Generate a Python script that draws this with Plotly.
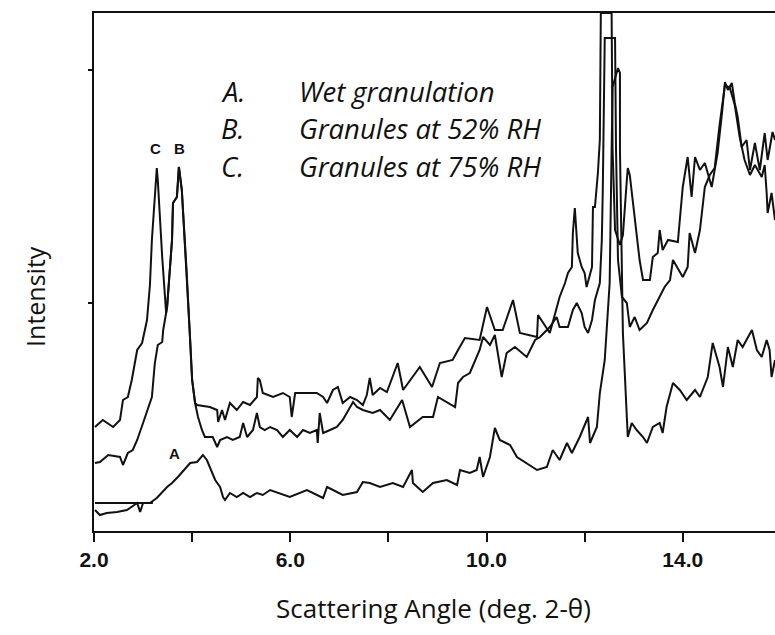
import plotly.graph_objects as go

# Scattering angle (deg 2-theta) and intensity (arbitrary units)
x_C = [2.02, 2.18, 2.39, 2.53, 2.59, 2.69, 2.77, 2.84, 2.88, 2.98, 3.04, 3.08, 3.14, 3.18, 3.28, 3.30, 3.39, 3.45, 3.47,
       3.49, 3.59, 3.61, 3.69, 3.73, 3.79, 3.89, 3.96, 4.00, 4.06, 4.10, 4.36, 4.51, 4.53, 4.61, 4.67, 4.77, 4.91, 5.04,
       5.18, 5.32, 5.34, 5.38, 5.44, 5.65, 5.85, 5.99, 6.03, 6.10, 6.54, 6.67, 6.75, 6.87, 6.97, 7.07, 7.22, 7.36, 7.48,
       7.56, 7.62, 7.68, 7.83, 7.97, 8.19, 8.30, 8.64, 8.89, 9.05, 9.31, 9.42, 9.56, 9.86, 10.01, 10.17, 10.33, 10.54,
       10.68, 11.03, 11.05, 11.29, 11.35, 11.49, 11.60, 11.66, 11.74, 11.76, 11.80, 11.84, 11.86, 11.94, 12.00, 12.04,
       12.11, 12.15, 12.17, 12.21, 12.27, 12.31, 12.33, 12.55, 12.57, 12.62, 12.72, 12.78, 12.86, 12.88, 12.92, 13.02,
       13.12, 13.19, 13.33, 13.39, 13.49, 13.53, 13.59, 13.70, 13.90, 14.00, 14.10, 14.18, 14.25, 14.35, 14.45, 14.59,
       14.65, 14.71, 14.80, 14.86, 14.92, 15.00, 15.06, 15.12, 15.20, 15.30, 15.37, 15.47, 15.57, 15.67, 15.73, 15.83, 15.88]
y_C = [104, 111, 104, 111, 131, 134, 151, 168, 181, 188, 201, 211, 246, 291, 363, 351, 274, 224, 218,
       224, 291, 328, 334, 364, 341, 258, 191, 151, 128, 126, 124, 121, 109, 121, 111, 128, 121, 129,
       126, 134, 153, 151, 138, 134, 138, 134, 114, 138, 138, 134, 128, 141, 144, 128, 134, 131, 126,
       136, 153, 136, 143, 139, 168, 141, 164, 144, 168, 171, 181, 193, 191, 224, 201, 201, 231,
       198, 194, 216, 198, 208, 234, 248, 258, 264, 298, 323, 294, 278, 264, 258, 244,
       258, 264, 324, 324, 358, 391, 518, 518, 381, 301, 286, 296, 351, 363, 356, 311,
       271, 251, 251, 274, 278, 301, 281, 291, 289, 344, 374, 334, 374, 361, 368, 344,
       361, 378, 418, 449, 441, 448, 428, 414, 384, 391, 361, 388, 361, 398, 371, 399, 391]

x_B = [2.02, 2.12, 2.29, 2.53, 2.59, 2.69, 2.79, 2.88, 3.00, 3.10, 3.18, 3.24, 3.30, 3.39, 3.41, 3.47, 3.49, 3.59,
       3.61, 3.69, 3.73, 3.79, 3.89, 3.96, 4.00, 4.06, 4.12, 4.20, 4.26, 4.42, 4.51, 4.57, 4.71, 4.83, 4.97, 5.04, 5.12,
       5.24, 5.32, 5.38, 5.48, 5.59, 5.73, 5.85, 5.99, 6.14, 6.26, 6.40, 6.54, 6.56, 6.60, 6.67, 6.81, 6.95, 7.07, 7.18,
       7.28, 7.36, 7.48, 7.68, 7.83, 8.03, 8.28, 8.44, 8.70, 8.91, 9.01, 9.36, 9.42, 9.52, 9.66, 9.86, 9.93, 10.07,
       10.17, 10.31, 10.41, 10.58, 10.82, 10.99, 11.09, 11.29, 11.43, 11.49, 11.66, 11.76, 11.84, 11.94, 12.00, 12.07,
       12.15, 12.21, 12.31, 12.35, 12.37, 12.41, 12.62, 12.64, 12.68, 12.76, 12.86, 12.92, 13.02, 13.12, 13.27, 13.39,
       13.49, 13.63, 13.74, 13.80, 14.00, 14.10, 14.14, 14.25, 14.35, 14.45, 14.55, 14.65, 14.75, 14.86, 14.96, 15.06,
       15.16, 15.26, 15.37, 15.47, 15.61, 15.67, 15.71, 15.73, 15.81, 15.88]
y_B = [68, 69, 76, 74, 66, 78, 81, 91, 108, 123, 134, 168, 186, 189, 201, 218, 224, 291,
       328, 334, 364, 341, 258, 191, 151, 128, 114, 101, 94, 94, 84, 91, 94, 91, 94, 108, 94,
       101, 118, 104, 101, 104, 101, 94, 101, 94, 101, 98, 101, 88, 118, 98, 101, 104, 111, 121,
       129, 124, 121, 118, 121, 111, 131, 104, 114, 114, 134, 124, 148, 154, 158, 181, 194, 186,
       196, 154, 178, 184, 174, 191, 194, 204, 214, 204, 204, 221, 228, 218, 204, 198,
       211, 231, 248, 291, 341, 493, 493, 381, 271, 234, 228, 204, 214, 201, 208, 221,
       231, 244, 251, 271, 254, 264, 298, 278, 301, 344, 356, 363, 406, 446, 443, 426,
       394, 371, 356, 366, 354, 366, 338, 318, 338, 311]

x_A = [2.02, 2.12, 2.26, 2.47, 2.67, 2.88, 2.94, 3.00, 3.14, 3.28, 3.49, 3.59, 3.71, 3.89, 3.96, 4.10, 4.22, 4.30,
       4.36, 4.47, 4.57, 4.63, 4.67, 4.77, 4.91, 5.04, 5.18, 5.32, 5.44, 5.59, 5.99, 6.34, 6.67, 6.75, 7.07, 7.36, 7.48,
       7.62, 7.83, 8.09, 8.30, 8.48, 8.50, 8.70, 8.91, 9.19, 9.40, 9.46, 9.66, 9.80, 9.86, 9.93, 10.07, 10.17, 10.27,
       10.48, 10.62, 10.82, 11.03, 11.23, 11.35, 11.49, 11.64, 11.74, 11.90, 12.07, 12.11, 12.25, 12.31, 12.41, 12.51,
       12.55, 12.57, 12.68, 12.72, 12.72, 12.76, 12.78, 12.86, 12.88, 12.96, 13.06, 13.19, 13.27, 13.39, 13.53, 13.59,
       13.67, 13.80, 13.94, 14.08, 14.25, 14.35, 14.51, 14.61, 14.75, 14.82, 14.92, 15.02, 15.12, 15.22, 15.41, 15.51,
       15.61, 15.71, 15.77, 15.81, 15.88]
y_A = [21, 16, 18, 19, 21, 28, 19, 28, 28, 33, 44, 48, 54, 64, 68, 69, 76, 71,
       64, 51, 44, 34, 31, 38, 34, 38, 34, 38, 36, 41, 34, 41, 33, 44, 36, 39, 49,
       48, 44, 48, 44, 61, 48, 39, 48, 51, 46, 61, 58, 61, 74, 54, 74, 103, 91,
       86, 74, 68, 61, 64, 81, 71, 88, 78, 94, 114, 88, 104, 138, 171, 248,
       381, 444, 463, 458, 381, 281, 198, 114, 94, 108, 101, 94, 88, 104, 108, 98,
       124, 148, 141, 131, 141, 134, 154, 188, 164, 144, 184, 164, 191, 184, 201, 181,
       174, 191, 181, 154, 171]

x_A_base = [2.02, 3.20]
y_A_base = [28, 28]

x_ticks = [2, 4, 6, 8, 10, 12, 14]
x_tick_text = ["2.0", "", "6.0", "", "10.0", "", "14.0"]
y_ticks = [228, 461]

legend_keys = ["A.", "B.", "C."]
legend_names = ["Wet granulation", "Granules at 52% RH", "Granules at 75% RH"]
legend_y = [440, 403, 365]

line = dict(color="#111111", width=2)
fig = go.Figure()
for xs, ys in [(x_C, y_C), (x_B, y_B), (x_A, y_A), (x_A_base, y_A_base)]:
    fig.add_trace(go.Scatter(x=xs, y=ys, mode="lines", line=line, showlegend=False, hoverinfo="skip"))

ann = []
lab_font = dict(family="Liberation Sans, Arial", size=15, color="#111111", weight="bold")
ann.append(dict(x=3.26, y=383, text="C", showarrow=False, font=lab_font))
ann.append(dict(x=3.75, y=383, text="B", showarrow=False, font=lab_font))
ann.append(dict(x=3.65, y=78, text="A", showarrow=False, font=lab_font))
leg_font = dict(family="Open Sans", size=27.5, color="#111111", style="italic")
for k, n, yy in zip(legend_keys, legend_names, legend_y):
    ann.append(dict(x=4.55, y=yy, text=k, showarrow=False, xanchor="left", yanchor="middle", font=leg_font))
    ann.append(dict(x=6.13, y=yy, text=n, showarrow=False, xanchor="left", yanchor="middle", font=leg_font))
ann.append(dict(xref="paper", yref="paper", x=0.498, y=-0.149, xanchor="center", yanchor="middle",
                text="Scattering Angle (deg. 2-θ)",
                showarrow=False, font=dict(family="Open Sans", size=26, color="#111111")))
ann.append(dict(xref="paper", yref="paper", x=-0.0866, y=0.452, xanchor="center", yanchor="middle",
                text="Intensity", textangle=-90,
                showarrow=False, font=dict(family="Open Sans", size=25, color="#111111")))

fig.update_layout(
    width=775, height=635,
    margin=dict(l=94, r=0, t=13, b=104),
    paper_bgcolor="white", plot_bgcolor="white",
    annotations=ann,
    xaxis=dict(range=[2.0, 15.88], showline=True, linecolor="#111111", linewidth=2, mirror=True,
               showgrid=False, zeroline=False, tickvals=x_ticks, ticktext=x_tick_text,
               ticks="outside", ticklen=9, tickwidth=1.5, tickcolor="#111111",
               tickfont=dict(family="Liberation Sans, Arial", size=21, color="#111111", weight="bold")),
    yaxis=dict(range=[0, 518], showline=True, linecolor="#111111", linewidth=2, mirror=False,
               showgrid=False, zeroline=False, tickvals=y_ticks, showticklabels=False,
               ticks="outside", ticklen=4, tickwidth=1.5, tickcolor="#111111"),
)
fig.write_html("out.html")
